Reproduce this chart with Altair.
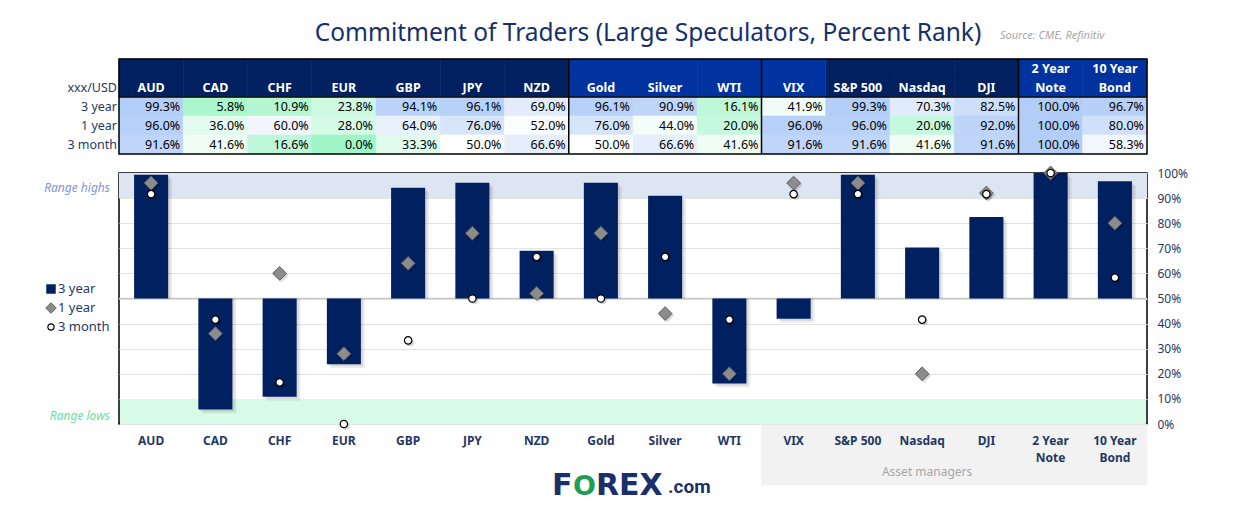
import altair as alt
import pandas as pd

# ---------------- data ----------------
cats = ["AUD", "CAD", "CHF", "EUR", "GBP", "JPY", "NZD", "Gold", "Silver", "WTI",
        "VIX", "S&P 500", "Nasdaq", "DJI", "2 Year Note", "10 Year Bond"]
head_top = ["", "", "", "", "", "", "", "", "", "", "", "", "", "", "2 Year", "10 Year"]
head_bot = ["AUD", "CAD", "CHF", "EUR", "GBP", "JPY", "NZD", "Gold", "Silver", "WTI",
            "VIX", "S&P 500", "Nasdaq", "DJI", "Note", "Bond"]
head_group = ["navy"] * 7 + ["blue"] * 3 + ["blue"] + ["navy"] * 3 + ["blue"] * 2
asset_managers = ["VIX", "S&P 500", "Nasdaq", "DJI", "2 Year Note", "10 Year Bond"]
separators = ["Gold", "VIX", "2 Year Note"]

three_year = [99.3, 5.8, 10.9, 23.8, 94.1, 96.1, 69.0, 96.1, 90.9, 16.1, 41.9, 99.3, 70.3, 82.5, 100.0, 96.7]
one_year = [96.0, 36.0, 60.0, 28.0, 64.0, 76.0, 52.0, 76.0, 44.0, 20.0, 96.0, 96.0, 20.0, 92.0, 100.0, 80.0]
three_month = [91.6, 41.6, 16.6, 0.0, 33.3, 50.0, 66.6, 50.0, 66.6, 41.6, 91.6, 91.6, 41.6, 91.6, 100.0, 58.3]
row_names = ["3 year", "1 year", "3 month"]
y_ticks = [0, 10, 20, 30, 40, 50, 60, 70, 80, 90, 100]
baseline_value = 50
range_high = [90, 100]
range_low = [0, 10]

# ---------------- styling ----------------
W, H = 1028, 251
NAVY = "#002060"
BLUE = "#0033a0"
TXT = "#1f3864"
FONT = "Noto Sans"

xscale = alt.Scale(domain=cats, paddingInner=0, paddingOuter=0)


def X(band=None):
    if band is None:
        return alt.X("cat:N", scale=xscale, axis=None)
    return alt.X("cat:N", scale=xscale, axis=None, bandPosition=band)


Ym = alt.Y("v:Q", scale=alt.Scale(domain=[0, 100]), title=None,
           axis=alt.Axis(orient="right", values=y_ticks, labelExpr="datum.value + '%'",
                         grid=True, gridColor="#e3e3e3", gridWidth=1, domain=False,
                         ticks=False, labelColor=TXT, labelFont=FONT, labelFontSize=12,
                         labelPadding=10))

one = alt.Data(values=[{"k": 1}])

# ---------------- main plot ----------------
bars_df = pd.DataFrame({"cat": cats, "v": three_year, "v2": baseline_value})
dia_df = pd.DataFrame({"cat": cats, "v": one_year})
circ_df = pd.DataFrame({"cat": cats, "v": three_month})
hi_df = pd.DataFrame({"v": [range_high[0]], "v2": [range_high[1]]})
lo_df = pd.DataFrame({"v": [range_low[0]], "v2": [range_low[1]]})
mid_df = pd.DataFrame({"v": [baseline_value]})

band_hi = alt.Chart(hi_df).mark_rect(color="#dee5f2").encode(
    x=alt.value(0), x2=alt.value(W), y=Ym, y2="v2:Q")
band_lo = alt.Chart(lo_df).mark_rect(color="#d8fbe7").encode(
    x=alt.value(1), x2=alt.value(W - 1), y=Ym, y2="v2:Q")
mid_rule = alt.Chart(mid_df).mark_rule(color="#c9c9c9", strokeWidth=1.5).encode(
    x=alt.value(0), x2=alt.value(W), y=Ym)

shadow1 = alt.Chart(bars_df).mark_bar(width=alt.RelativeBandSize(0.53), color="black",
                                      opacity=0.07, xOffset=4, yOffset=4).encode(
    x=X(), y=Ym, y2="v2:Q")
shadow2 = alt.Chart(bars_df).mark_bar(width=alt.RelativeBandSize(0.53), color="black",
                                      opacity=0.09, xOffset=2, yOffset=2).encode(
    x=X(), y=Ym, y2="v2:Q")
bars = alt.Chart(bars_df).mark_bar(width=alt.RelativeBandSize(0.53), color=NAVY).encode(
    x=X(), y=Ym, y2="v2:Q")

dia_sh = alt.Chart(dia_df).mark_point(shape="diamond", filled=True, size=190, color="black",
                                      opacity=0.15, xOffset=2, yOffset=2, strokeWidth=0).encode(x=X(), y=Ym)
diamonds = alt.Chart(dia_df).mark_point(shape="diamond", filled=True, size=190, fill="#8c8c8c",
                                        stroke="#5e5e5e", strokeWidth=1, opacity=1).encode(x=X(), y=Ym)
circ_sh = alt.Chart(circ_df).mark_point(shape="circle", filled=True, size=55, color="black",
                                        opacity=0.18, xOffset=2, yOffset=2, strokeWidth=0).encode(x=X(), y=Ym)
circles = alt.Chart(circ_df).mark_point(shape="circle", filled=True, size=55, fill="white",
                                        stroke="black", strokeWidth=1.2, opacity=1).encode(x=X(), y=Ym)

main = alt.layer(band_hi, band_lo, mid_rule, shadow1, shadow2, bars,
                 dia_sh, diamonds, circ_sh, circles)

# ---------------- table ----------------
cells = []
for i, c in enumerate(cats):
    for r, arr in zip(row_names, [three_year, one_year, three_month]):
        cells.append({"cat": c, "row": r, "val": arr[i], "lab": f"{arr[i]:.1f}%"})
cells_df = pd.DataFrame(cells)
head_df = pd.DataFrame({"cat": cats, "top": head_top, "bot": head_bot, "grp": head_group})
rows_df = pd.DataFrame({"row": row_names})
sep_df = pd.DataFrame({"cat": separators})
am_df = pd.DataFrame({"cat": asset_managers})

Yt = alt.Y("row:N", scale=alt.Scale(domain=row_names, range=[-76, -19], paddingInner=0,
                                    paddingOuter=0), axis=None)
cscale = alt.Scale(domain=[0, 100], domainMid=50, range=["#9ff5c6", "#ffffff", "#b2cdf8"],
                   interpolate="rgb")

head_navy = alt.Chart(head_df).transform_filter("datum.grp == 'navy'").mark_rect(
    color=NAVY, stroke=NAVY, strokeWidth=0.6).encode(x=X(), y=alt.value(-114), y2=alt.value(-76))
head_blue = alt.Chart(head_df).transform_filter("datum.grp == 'blue'").mark_rect(
    color=BLUE, stroke=BLUE, strokeWidth=0.6).encode(x=X(), y=alt.value(-114), y2=alt.value(-76))
head_txt2 = alt.Chart(head_df).mark_text(color="white", font=FONT, fontWeight="bold", fontSize=12.5,
                                         baseline="middle").encode(
    x=X(), y=alt.value(-85), text="bot:N")
head_txt1 = alt.Chart(head_df).mark_text(color="white", font=FONT, fontWeight="bold", fontSize=12.5,
                                         baseline="middle").encode(
    x=X(), y=alt.value(-104), text="top:N")

cell_rect = alt.Chart(cells_df).mark_rect(strokeWidth=0.6).encode(
    x=X(), y=Yt,
    color=alt.Color("val:Q", scale=cscale, legend=None),
    stroke=alt.Stroke("val:Q", scale=cscale, legend=None))
cell_txt = alt.Chart(cells_df).mark_text(align="right", baseline="middle", dx=-3, font=FONT,
                                         fontSize=12.5, color="black").encode(
    x=X(1), y=Yt, text="lab:N")
row_txt = alt.Chart(rows_df).mark_text(align="right", baseline="middle", font=FONT, fontSize=12.5,
                                       color=TXT).encode(x=alt.value(-2), y=Yt, text="row:N")
xxx_txt = alt.Chart(one).mark_text(align="right", baseline="middle", font=FONT, fontSize=12.5,
                                   color=TXT, text="xxx/USD").encode(x=alt.value(-2), y=alt.value(-85))

tbl_border = alt.Chart(one).mark_rect(fillOpacity=0, stroke="black", strokeWidth=1.5).encode(
    x=alt.value(0), x2=alt.value(W), y=alt.value(-114), y2=alt.value(-19))
head_line = alt.Chart(one).mark_rule(color="black", strokeWidth=1.5).encode(
    x=alt.value(0), x2=alt.value(W), y=alt.value(-76))
seps = alt.Chart(sep_df).mark_rule(color="black", strokeWidth=1.5).encode(
    x=X(0), y=alt.value(-114), y2=alt.value(-19))

# bottom labels / asset managers box
am_box = alt.Chart(am_df).mark_rect(color="#f2f2f2", stroke="#f2f2f2", strokeWidth=0.6).encode(
    x=X(), y=alt.value(252), y2=alt.value(312))
am_txt = alt.Chart(pd.DataFrame({"cat": ["Nasdaq"], "t": ["Asset managers"]})).mark_text(
    font=FONT, fontSize=12, color="#a6a6a6", baseline="middle", dx=5).encode(
    x=X(), y=alt.value(299), text="t:N")
xl1 = alt.Chart(head_df).mark_text(color=TXT, font=FONT, fontWeight="bold", fontSize=12,
                                   baseline="middle").encode(
    x=X(), y=alt.value(268), text=alt.Text("first:N")).transform_calculate(
    first="datum.top == '' ? datum.bot : datum.top")
xl2 = alt.Chart(head_df).mark_text(color=TXT, font=FONT, fontWeight="bold", fontSize=12,
                                   baseline="middle").encode(
    x=X(), y=alt.value(285), text=alt.Text("second:N")).transform_calculate(
    second="datum.top == '' ? '' : datum.bot")

# texts & legend
title = alt.Chart(one).mark_text(font=FONT, fontSize=24.5, color="#15306a", align="center",
                                 baseline="middle",
                                 text="Commitment of Traders (Large Speculators, Percent Rank)").encode(
    x=alt.value(529), y=alt.value(-139))
source = alt.Chart(one).mark_text(font=FONT, fontSize=11, color="#a6a6a6", fontStyle="italic",
                                  align="left", baseline="middle", text="Source: CME, Refinitiv").encode(
    x=alt.value(881), y=alt.value(-137))
r_hi = alt.Chart(one).mark_text(font=FONT, fontSize=12, color="#7f95d6", fontStyle="italic",
                                align="right", baseline="middle", text="Range highs").encode(
    x=alt.value(-9), y=alt.value(15))
r_lo = alt.Chart(one).mark_text(font=FONT, fontSize=12, color="#5fe39c", fontStyle="italic",
                                align="right", baseline="middle", text="Range lows").encode(
    x=alt.value(-9), y=alt.value(243))

leg_sq = alt.Chart(one).mark_point(shape="square", filled=True, size=90, color=NAVY, opacity=1).encode(
    x=alt.value(-68), y=alt.value(116))
leg_di = alt.Chart(one).mark_point(shape="diamond", filled=True, size=110, fill="#8c8c8c",
                                   stroke="#5e5e5e", strokeWidth=1, opacity=1).encode(
    x=alt.value(-68), y=alt.value(135))
leg_ci = alt.Chart(one).mark_point(shape="circle", filled=True, size=40, fill="white",
                                   stroke="black", strokeWidth=1.2, opacity=1).encode(
    x=alt.value(-68), y=alt.value(154))
leg_t = alt.Chart(pd.DataFrame({"t": ["3 year", "1 year", "3 month"], "yy": [116, 135, 154]})).mark_text(
    font=FONT, fontSize=13, color=TXT, align="left", baseline="middle").encode(
    x=alt.value(-61), y=alt.Y("yy:Q", scale=None, axis=None), text="t:N")

logo_f = alt.Chart(one).mark_text(font="DejaVu Sans", fontWeight="bold", fontSize=30, color="#1b2f6b",
                                  align="left", baseline="alphabetic", text="F").encode(
    x=alt.value(433), y=alt.value(322))
logo_o = alt.Chart(one).mark_text(font="DejaVu Sans", fontWeight="bold", fontSize=27, color="#1e9e55",
                                  align="left", baseline="alphabetic", text="O").encode(
    x=alt.value(454), y=alt.value(322))
logo_rex = alt.Chart(one).mark_text(font="DejaVu Sans", fontWeight="bold", fontSize=30, color="#1b2f6b",
                                    align="left", baseline="alphabetic", text="REX").encode(
    x=alt.value(477), y=alt.value(322))
logo_com = alt.Chart(one).mark_text(font="Roboto", fontWeight="bold", fontSize=19, color="#1b2f6b",
                                    align="left", baseline="alphabetic", text=".com").encode(
    x=alt.value(549), y=alt.value(320))

table = alt.layer(head_navy, head_blue, head_txt1, head_txt2, cell_rect, cell_txt, row_txt, xxx_txt,
                  tbl_border, head_line, seps, am_box, am_txt, xl1, xl2, title, source, r_hi, r_lo,
                  leg_sq, leg_di, leg_ci, logo_f, logo_o, logo_rex, logo_com)

chart = alt.layer(main, table, leg_t).resolve_scale(y="independent", color="independent",
                                                    stroke="independent").properties(
    width=W, height=H,
    padding={"left": 111, "top": 165, "right": 92, "bottom": 80},
    autosize=alt.AutoSizeParams(type="none"),
    background="white",
).configure_view(stroke="black", strokeWidth=1.5)

chart.save("out.html", embed_options={"renderer": "svg", "actions": False})
